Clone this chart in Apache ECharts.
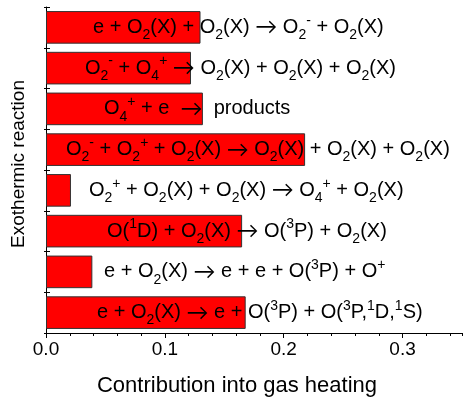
<!DOCTYPE html>
<html>
<head>
<meta charset="utf-8">
<script src="https://cdn.jsdelivr.net/npm/echarts@6/dist/echarts.min.js"></script>
<style>
  html, body { margin: 0; padding: 0; background: #fff; }
  #chart { width: 466px; height: 402px; }
</style>
</head>
<body>
<div id="chart"></div>
<script>
// Exothermic reactions, top to bottom ({s|..} subscript, {p|..} superscript, {a|..} arrow)
const reactions = [
  'e + O{s|2}(X) + O{s|2}(X) {a|\u2192} O{s|2}{p|-} + O{s|2}(X)',
  'O{s|2}{p|-} + O{s|4}{p|+} {a|\u2192} O{s|2}(X) + O{s|2}(X) + O{s|2}(X)',
  'O{s|4}{p|+} + e  {a|\u2192}  products',
  'O{s|2}{p|-} + O{s|2}{p|+} + O{s|2}(X) {a|\u2192} O{s|2}(X) + O{s|2}(X) + O{s|2}(X)',
  'O{s|2}{p|+} + O{s|2}(X) + O{s|2}(X) {a|\u2192} O{s|4}{p|+} + O{s|2}(X)',
  'O({p|1}D) + O{s|2}(X) {a|\u2192} O({p|3}P) + O{s|2}(X)',
  'e + O{s|2}(X) {a|\u2192} e + e + O({p|3}P) + O{p|+}',
  'e + O{s|2}(X) {a|\u2192} e + O({p|3}P) + O({p|3}P,{p|1}D,{p|1}S)'
];
// Contribution of each reaction into gas heating
const contributions = [0.130, 0.122, 0.132, 0.218, 0.021, 0.165, 0.039, 0.168];
const xTicks = [0.0, 0.1, 0.2, 0.3];

// Horizontal offset of each reaction label from the bar origin (px)
const labelIndent = [47, 39, 58, 20, 43, 61, 58, 51];

const FONT = 'Liberation Sans, Arial, sans-serif';
const chart = echarts.init(document.getElementById('chart'), null, { renderer: 'canvas' });

const cats = reactions.map((_, i) => 'r' + i);

chart.setOption({
  animation: false,
  backgroundColor: '#fff',
  grid: { left: 46, right: 4, top: 7, bottom: 62 },
  xAxis: [
    {
      type: 'value', min: 0, max: 0.35, interval: 0.1,
      name: 'Contribution into gas heating',
      nameLocation: 'middle', nameGap: 42,
      nameTextStyle: { fontFamily: FONT, fontSize: 22, color: '#000', padding: [0, 34, 0, 0] },
      axisLine: { show: true, lineStyle: { color: '#000', width: 1 } },
      axisTick: { show: true, length: 5, lineStyle: { color: '#000' } },
      axisLabel: {
        fontFamily: FONT, fontSize: 19, color: '#000', margin: 7,
        showMaxLabel: false,
        formatter: v => xTicks.some(t => Math.abs(t - v) < 1e-9) ? v.toFixed(1) : ''
      },
      splitLine: { show: false }
    },
    {
      // fine tick marks every 0.02
      type: 'value', min: 0, max: 0.35, interval: 0.02, position: 'bottom',
      axisLine: { show: false }, axisLabel: { show: false },
      axisTick: { show: true, length: 3, lineStyle: { color: '#000' } },
      splitLine: { show: false }
    }
  ],
  yAxis: [
    {
      type: 'category', data: cats, inverse: true,
      name: 'Exothermic reaction', nameLocation: 'middle', nameGap: 18,
      nameTextStyle: { fontFamily: FONT, fontSize: 19, color: '#000', padding: [0, 0, 0, 12] },
      axisLine: { show: true, lineStyle: { color: '#000', width: 1 } },
      axisTick: { show: true, length: 2, lineStyle: { color: '#000' } },
      axisLabel: { show: false }
    },
    {
      type: 'category', data: cats, inverse: true, position: 'left',
      axisLine: { show: false }, axisLabel: { show: false },
      axisTick: { show: true, inside: true, length: 4, lineStyle: { color: '#000' } }
    }
  ],
  series: [{
    type: 'bar',
    xAxisIndex: 0, yAxisIndex: 0,
    barCategoryGap: '20%',
    itemStyle: { color: '#ff0000', borderColor: '#333', borderWidth: 1 },
    data: contributions.map((v, i) => ({
      value: v,
      label: {
        show: true,
        position: [labelIndent[i], '50%'],
        align: 'left', verticalAlign: 'middle',
        formatter: reactions[i],
        fontFamily: FONT, fontSize: 20, color: '#000',
        rich: {
          s: { fontFamily: FONT, fontSize: 14, color: '#000', padding: [16, 0, 0, 0] },
          p: { fontFamily: FONT, fontSize: 14, color: '#000', padding: [0, 0, 13, 0] },
          a: { fontFamily: 'Lato', fontSize: 22, color: '#000' }
        }
      }
    }))
  }]
});
</script>
</body>
</html>
